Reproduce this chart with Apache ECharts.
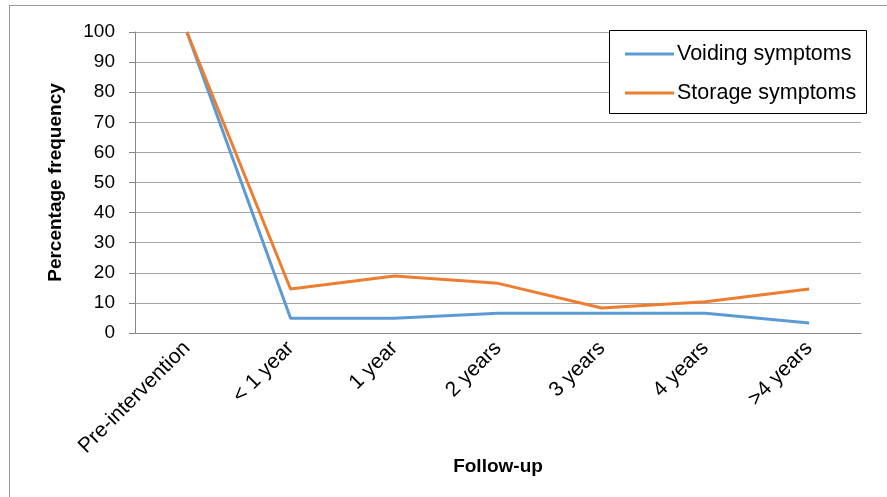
<!DOCTYPE html>
<html>
<head>
<meta charset="utf-8">
<script src="https://cdn.jsdelivr.net/npm/echarts@6/dist/echarts.min.js"></script>
<style>
  html, body { margin: 0; padding: 0; background: #fff; }
  #chart { width: 887px; height: 497px; }
</style>
</head>
<body>
<div id="chart"></div>
<script>
  // data
  const categories = ['Pre-intervention', '< 1 year', '1 year', '2 years', '3 years', '4 years', '>4 years']
  const voiding = [100, 4.9, 4.9, 6.6, 6.6, 6.6, 3.3]
  const storage = [100, 14.6, 18.9, 16.5, 8.3, 10.4, 14.6]
  const yTicks = [0, 10, 20, 30, 40, 50, 60, 70, 80, 90, 100]

  const font = '"Liberation Sans", Arial, sans-serif'
  const chart = echarts.init(document.getElementById('chart'))

  const option = {
    animation: false,
    backgroundColor: '#fff',
    textStyle: { fontFamily: font, color: '#000' },
    grid: { left: 135, right: 26, top: 32, bottom: 164, containLabel: false },
    graphic: [
      { type: 'line', shape: { x1: 9.5, y1: 5, x2: 9.5, y2: 497 }, style: { stroke: '#9a9a9a', lineWidth: 1 } },
      { type: 'line', shape: { x1: 9, y1: 5.5, x2: 887, y2: 5.5 }, style: { stroke: '#9a9a9a', lineWidth: 1 } },
      { type: 'rect', shape: { x: 609.5, y: 30.5, width: 257, height: 83 }, style: { fill: '#fff', stroke: '#000', lineWidth: 1 }, z: 50 }
    ],
    legend: {
      orient: 'vertical',
      left: 620,
      top: 38,
      itemWidth: 49,
      itemHeight: 3,
      itemGap: 17,
      icon: 'rect',
      z: 60,
      textStyle: { fontSize: 21.5, fontFamily: font, color: '#000', padding: [0, 0, 0, -2] },
      data: ['Voiding symptoms', 'Storage symptoms']
    },
    xAxis: {
      type: 'category',
      data: categories,
      boundaryGap: true,
      name: 'Follow-up',
      nameLocation: 'middle',
      nameGap: 124,
      nameMoveOverlap: false,
      nameTextStyle: { fontSize: 19, fontWeight: 'bold', fontFamily: font, color: '#000' },
      axisLine: { lineStyle: { color: '#868686', width: 1 } },
      axisTick: { alignWithLabel: true, length: 6, lineStyle: { color: '#868686' } },
      axisLabel: { rotate: 45, fontSize: 21, color: '#000', margin: 12, interval: 0 }
    },
    yAxis: {
      type: 'value',
      min: 0,
      max: 100,
      interval: 10,
      name: 'Percentage frequency',
      nameLocation: 'middle',
      nameGap: 70,
      nameMoveOverlap: false,
      nameTextStyle: { fontSize: 19, fontWeight: 'bold', fontFamily: font, color: '#000' },
      axisLine: { show: true, lineStyle: { color: '#868686', width: 1 } },
      axisTick: { show: true, length: 6, lineStyle: { color: '#868686' } },
      axisLabel: {
        fontSize: 19,
        color: '#000',
        margin: 20,
        formatter: v => (yTicks.indexOf(v) >= 0 ? String(v) : '')
      },
      splitLine: { show: true, lineStyle: { color: '#a6a6a6', width: 1 } }
    },
    series: [
      {
        name: 'Voiding symptoms',
        type: 'line',
        data: voiding,
        showSymbol: false,
        symbol: 'none',
        lineStyle: { width: 3, color: '#5B9BD5' },
        itemStyle: { color: '#5B9BD5' }
      },
      {
        name: 'Storage symptoms',
        type: 'line',
        data: storage,
        showSymbol: false,
        symbol: 'none',
        lineStyle: { width: 3, color: '#ED7D31' },
        itemStyle: { color: '#ED7D31' }
      }
    ]
  }

  chart.setOption(option)
</script>
</body>
</html>
